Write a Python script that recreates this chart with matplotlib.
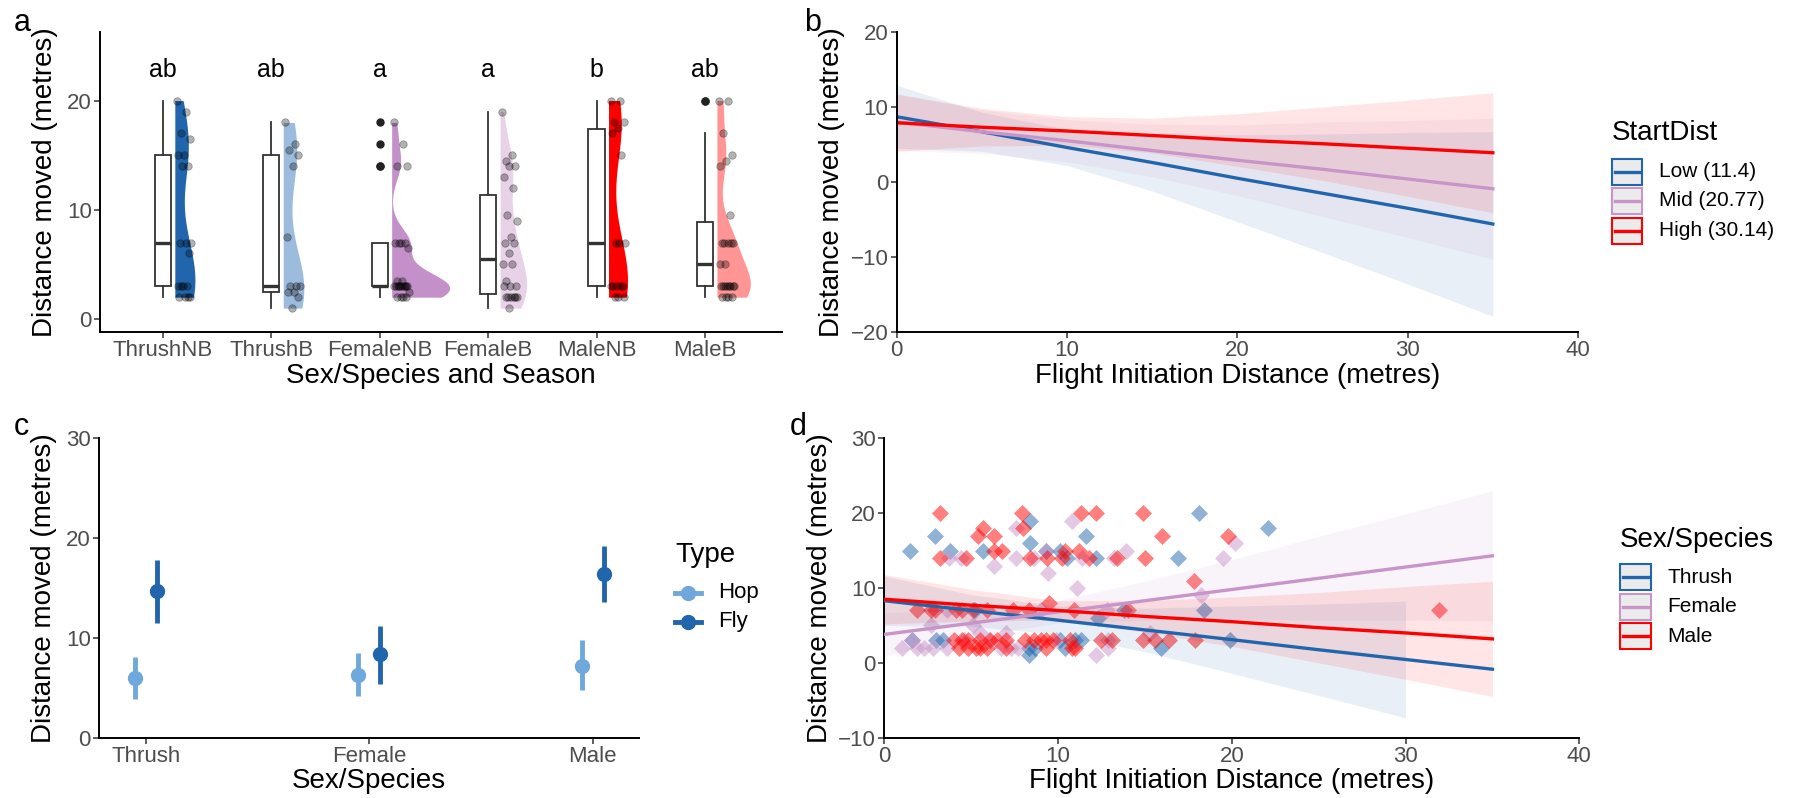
import numpy as np
import matplotlib
matplotlib.use("Agg")
import matplotlib.pyplot as plt
from matplotlib.patches import Rectangle
from matplotlib.lines import Line2D

plt.rcParams['font.family'] = ['Liberation Sans', 'DejaVu Sans']

# ---------------- panel a data ----------------
groups = ["ThrushNB", "ThrushB", "FemaleNB", "FemaleB", "MaleNB", "MaleB"]
group_colors = ["#2166AC", "#9DBCDD", "#C390C9", "#E8D2E8", "#FF0000", "#FF9595"]
letters = ["ab", "ab", "a", "a", "b", "ab"]
thrush_nb = [20, 19, 17, 16.5, 15, 15, 14, 14, 7, 7, 7, 6, 3, 3, 3, 3, 2, 2, 2, 2]
thrush_b = [18, 16, 15.5, 15, 14, 7.5, 3, 3, 3, 2.5, 2.5, 2, 1]
female_nb = [18, 16, 14, 14, 7, 7, 7, 7, 6.5, 3.5, 3.5, 3, 3, 3, 3, 3, 3, 3, 3, 3, 3,
             2.5, 2, 2, 2, 2]
female_b = [19, 15, 14.5, 14, 14, 13, 12, 9.5, 9, 7.5, 7, 7, 6, 5, 5, 3.5, 3, 3, 3,
            2, 2, 2, 2, 2, 2, 1]
male_nb = [20, 20, 18, 18, 17.5, 17, 15, 7, 7, 7, 3, 3, 3, 3, 3, 2, 2, 2]
male_b = [20, 20, 17, 15, 14.5, 14, 9.5, 7, 7, 7, 7, 7, 5, 5, 3, 3, 3, 3, 3, 3, 3, 3,
          2, 2, 2, 2]
groups_data = [thrush_nb, thrush_b, female_nb, female_b, male_nb, male_b]

# ---------------- panel b data (model predictions) ----------------
fid_pred = [0, 5, 10, 15, 20, 25, 30, 35]
startdist_labels = ["Low (11.4)", "Mid (20.77)", "High (30.14)"]
startdist_colors = ["#2166AC", "#C994C9", "#FF0000"]
b_fit = [[8.7, 6.7, 4.6, 2.6, 0.5, -1.5, -3.5, -5.6],
         [8.0, 6.7, 5.5, 4.2, 2.9, 1.7, 0.4, -0.9],
         [7.9, 7.3, 6.8, 6.2, 5.6, 5.1, 4.5, 3.9]]
b_lo = [[4.5, 4.1, 2.2, -1.2, -5.3, -9.4, -13.6, -17.9],
        [4.2, 3.8, 2.7, 0.7, -1.8, -4.6, -7.4, -10.3],
        [4.1, 4.8, 4.9, 3.9, 2.1, 0.2, -1.9, -4.1]]
b_hi = [[12.9, 9.3, 7.0, 6.4, 6.3, 6.4, 6.6, 6.7],
        [11.8, 9.6, 8.3, 7.7, 7.6, 8.0, 8.2, 8.5],
        [11.7, 9.8, 8.7, 8.5, 9.1, 10.0, 10.9, 11.9]]

# ---------------- panel c data ----------------
species = ["Thrush", "Female", "Male"]
move_types = ["Hop", "Fly"]
type_colors = ["#6FA8DC", "#2166AC"]
c_mean = [[6.0, 6.3, 7.2], [14.7, 8.4, 16.4]]
c_lo = [[3.9, 4.2, 4.8], [11.5, 5.4, 13.6]]
c_hi = [[8.1, 8.5, 9.8], [17.8, 11.2, 19.2]]

# ---------------- panel d data ----------------
sex_labels = ["Thrush", "Female", "Male"]
sex_colors = ["#2166AC", "#C994C9", "#FF0000"]
thrush_fid = [1.5, 2.9, 3.8, 5.7, 8.4, 8.4, 9.3, 10.1, 10.5, 11.6, 12.2, 5.2, 13.8, 12.3,
              1.6, 3.0, 3.4, 10.1, 11.0, 11.3, 8.3, 8.7, 10.4, 8.3, 18.1, 22.1, 16.9,
              18.4, 19.9, 15.9]
thrush_dist = [15, 17, 15, 15, 19, 16, 15, 15, 14, 17, 14, 7, 7, 6, 3, 3, 3, 3, 3, 3,
               2, 2, 2, 1, 20, 18, 14, 7, 3, 2]
female_fid = [10.8, 7.6, 20.2, 9.3, 13.9, 3.7, 4.4, 7.6, 8.6, 11.4, 13.2, 19.5, 6.3, 9.4,
              11.1, 18.2, 3.6, 9.0, 12.8, 2.7, 5.1, 5.5, 7.0, 15.3, 1.6, 4.6, 6.0, 9.9,
              12.9, 1.0, 1.9, 2.3, 2.8, 3.6, 6.7, 7.3, 7.7, 12.9, 12.2]
female_dist = [19, 18, 16, 15, 15, 14, 14, 14, 14, 14, 14, 14, 13, 12, 10, 9, 7, 7, 7,
               5, 5, 4, 4, 4, 3, 3, 3, 3, 3, 2, 2, 2, 2, 2, 2, 2, 2, 2, 1]
male_fid = [3.2, 7.9, 11.3, 12.2, 14.9, 5.7, 8.0, 5.4, 6.3, 16.0, 19.8, 6.3, 6.8, 10.4,
            11.2, 3.2, 4.7, 8.4, 9.35, 10.2, 11.8, 13.4, 15.0, 17.8, 9.5, 1.9, 2.7, 2.9,
            4.1, 4.5, 5.1, 5.9, 7.4, 8.3, 10.9, 14.0, 31.9, 4.0, 4.5, 4.8, 5.5, 6.1, 6.5,
            7.0, 8.1, 8.6, 9.0, 9.3, 9.7, 10.7, 12.5, 13.1, 14.9, 15.6, 16.4, 17.9, 4.3,
            4.8, 5.3, 5.5, 5.9, 7.0, 9.3, 10.8, 11.0]
male_dist = [20, 20, 20, 20, 20, 18, 18, 17, 17, 17, 17, 15, 15, 15, 15, 14, 14, 14, 14,
             14, 14, 14, 14, 11, 8, 7, 7, 7, 7, 7, 7, 7, 7, 7, 7, 7, 7, 3, 3, 3, 3, 3, 3,
             3, 3, 3, 3, 3, 3, 3, 3, 3, 3, 3, 3, 3, 2, 2, 2, 2, 2, 2, 2, 2, 2]
d_x = [[0, 5, 10, 15, 20, 25, 30],
       [0, 5, 10, 15, 20, 25, 30, 35],
       [0, 5, 10, 15, 20, 25, 30, 35]]
d_fit = [[8.3, 7.0, 5.7, 4.4, 3.1, 1.75, 0.45, -0.85],
         [3.8, 5.3, 6.8, 8.3, 9.8, 11.3, 12.8, 14.3],
         [8.5, 7.7, 7.0, 6.2, 5.5, 4.7, 4.0, 3.2]]
d_lo = [[5.0, 4.9, 3.8, 1.5, -1.4, -4.35, -7.35],
        [0.9, 3.6, 5.3, 5.7, 5.8, 5.7, 5.7, 5.6],
        [5.2, 5.6, 5.7, 4.1, 2.2, 0.0, -2.2, -4.5]]
d_hi = [[11.6, 9.1, 7.6, 7.3, 7.6, 7.85, 8.25],
        [6.7, 7.0, 8.3, 10.9, 13.8, 16.9, 19.9, 23.0],
        [11.8, 9.8, 8.3, 8.3, 8.8, 9.4, 10.2, 10.9]]
d_line_x = [0, 5, 10, 15, 20, 25, 30, 35]

W, H = 1794, 798
fig = plt.figure(figsize=(W / 100, H / 100), dpi=100)

TICK_FS = 16
TITLE_FS = 20
GREY = "#4D4D4D"


def px_axes(l, t, r, b):
    return fig.add_axes([l / W, 1 - b / H, (r - l) / W, (b - t) / H])


def style(ax):
    for s in ["top", "right"]:
        ax.spines[s].set_visible(False)
    for s in ["left", "bottom"]:
        ax.spines[s].set_linewidth(1.4)
    ax.tick_params(labelsize=TICK_FS, labelcolor=GREY, color="#333333",
                   length=4, width=1.1, pad=2)


def fx(x):
    return x / W


def fy(y):
    return 1 - y / H


def legend_block(title, labels, colors, x_key, w_key, y_title, y_rows, x_text, fs, kind):
    fig.text(fx(x_key), fy(y_title), title, fontsize=TITLE_FS, va="center", ha="left")
    for lab, c, y in zip(labels, colors, y_rows):
        if kind == "box":
            fig.add_artist(Rectangle((fx(x_key), fy(y + 13)), w_key / W, 26 / H,
                                     transform=fig.transFigure, facecolor="#EBEBEB",
                                     edgecolor=c, lw=1.5))
            fig.add_artist(Line2D([fx(x_key + 3), fx(x_key + w_key - 3)], [fy(y), fy(y)],
                                  color=c, lw=2.4, transform=fig.transFigure))
        else:
            fig.add_artist(Line2D([fx(x_key), fx(x_key + w_key)], [fy(y), fy(y)],
                                  color=c, lw=3.5, transform=fig.transFigure))
            fig.add_artist(Line2D([fx(x_key + w_key / 2)], [fy(y)], marker="o", ms=10,
                                  color=c, transform=fig.transFigure))
        fig.text(fx(x_text), fy(y), lab, fontsize=fs, va="center", ha="left")


def kde(vals, grid):
    v = np.asarray(vals, float)
    iqr = np.subtract(*np.percentile(v, [75, 25]))
    bw = 0.9 * min(v.std(ddof=1), iqr / 1.34) * len(v) ** -0.2
    z = (grid[:, None] - v[None, :]) / bw
    return np.exp(-0.5 * z ** 2).sum(1) / (len(v) * bw * np.sqrt(2 * np.pi))


# ================= panel a =================
ax = px_axes(100, 32, 782, 332)
style(ax)
pos = np.arange(len(groups))
dens = []
for vals in groups_data:
    g = np.linspace(min(vals), max(vals), 400)
    dens.append((g, kde(vals, g)))
dmax = max(d.max() for _, d in dens)
for i, (g, d) in enumerate(dens):
    x0 = pos[i] + 0.11
    ax.fill_betweenx(g, x0, x0 + 0.535 * d / dmax, color=group_colors[i], lw=0, zorder=1)
ax.boxplot(groups_data, positions=pos, widths=0.15, patch_artist=True, showcaps=False,
           boxprops=dict(facecolor="white", edgecolor="#333333", lw=1.3),
           whiskerprops=dict(color="#333333", lw=1.3),
           medianprops=dict(color="#333333", lw=2.4),
           flierprops=dict(marker="o", markerfacecolor="#222222", markeredgecolor="#222222",
                           markersize=5),
           manage_ticks=False, zorder=2)
for i, vals in enumerate(groups_data):
    k = np.arange(len(vals))
    jit = 0.2 + 0.14 * (((k * 0.618034) % 1) - 0.5)
    ax.plot(pos[i] + jit, vals, "o", color="black", alpha=0.3, ms=5.4, mew=0.6,
            mec="black", zorder=3)
    ax.text(pos[i], 22.8, letters[i], ha="center", va="center", fontsize=18)
ax.set_xlim(-0.58, 5.71)
ax.set_ylim(-1.19, 26.28)
ax.set_xticks(pos)
ax.set_xticklabels(groups)
ax.set_yticks([0, 10, 20])
ax.set_xlabel("Sex/Species and Season", fontsize=TITLE_FS, labelpad=1)
ax.set_ylabel("Distance moved (metres)", fontsize=TITLE_FS, labelpad=6)

# ================= panel b =================
ax = px_axes(896.7, 32, 1578, 332)
style(ax)
for i in range(3):
    ax.fill_between(fid_pred, b_lo[i], b_hi[i], color=startdist_colors[i], alpha=0.1, lw=0)
for i in range(3):
    ax.plot(fid_pred, b_fit[i], color=startdist_colors[i], lw=2.4)
ax.set_xlim(0, 40)
ax.set_ylim(-20, 20)
ax.set_xticks([0, 10, 20, 30, 40])
ax.set_yticks([-20, -10, 0, 10, 20])
ax.set_xlabel("Flight Initiation Distance (metres)", fontsize=TITLE_FS, labelpad=1)
ax.set_ylabel("Distance moved (metres)", fontsize=TITLE_FS, labelpad=4)
legend_block("StartDist", startdist_labels, startdist_colors, 1612, 30, 133,
             [171.7, 201, 230.7], 1659, 15, "box")

# ================= panel c =================
ax = px_axes(99, 437.7, 639.3, 737.7)
style(ax)
spos = np.arange(len(species))
for j, t in enumerate(move_types):
    xs = spos + (-0.05 if j == 0 else 0.05)
    ax.vlines(xs, c_lo[j], c_hi[j], color=type_colors[j], lw=3.5)
    ax.plot(xs, c_mean[j], "o", color=type_colors[j], ms=10)
ax.set_xlim(-0.209, 2.208)
ax.set_ylim(0, 30)
ax.set_xticks(spos)
ax.set_xticklabels(species)
ax.set_yticks([0, 10, 20, 30])
ax.set_xlabel("Sex/Species", fontsize=TITLE_FS, labelpad=1)
ax.set_ylabel("Distance moved (metres)", fontsize=TITLE_FS, labelpad=6)
legend_block("Type", move_types, type_colors, 675, 26, 555, [592.7, 621.7], 718, 16,
             "point")

# ================= panel d =================
ax = px_axes(884.3, 438.3, 1579.3, 737.7)
style(ax)
pts = [(thrush_fid, thrush_dist), (female_fid, female_dist), (male_fid, male_dist)]
for i in range(3):
    ax.scatter(pts[i][0], pts[i][1], marker="D", s=75, color=sex_colors[i], alpha=0.5,
               lw=0, zorder=1)
for i in range(3):
    ax.fill_between(d_x[i], d_lo[i], d_hi[i], color=sex_colors[i], alpha=0.1, lw=0, zorder=2)
for i in range(3):
    ax.plot(d_line_x, d_fit[i], color=sex_colors[i], lw=2.4, zorder=3)
ax.set_xlim(0, 40)
ax.set_ylim(-10, 30)
ax.set_xticks([0, 10, 20, 30, 40])
ax.set_yticks([-10, 0, 10, 20, 30])
ax.set_xlabel("Flight Initiation Distance (metres)", fontsize=TITLE_FS, labelpad=1)
ax.set_ylabel("Distance moved (metres)", fontsize=TITLE_FS, labelpad=4)
legend_block("Sex/Species", sex_labels, sex_colors, 1620, 31, 540, [577.3, 606.7, 636],
             1667, 15, "box")

# panel tags
for tag, x, y in [("a", 14, 8), ("b", 804, 8), ("c", 14, 412), ("d", 790, 412)]:
    fig.text(x / W, 1 - y / H, tag, fontsize=22, va="top", ha="left")

fig.savefig("out.png", dpi=100)
